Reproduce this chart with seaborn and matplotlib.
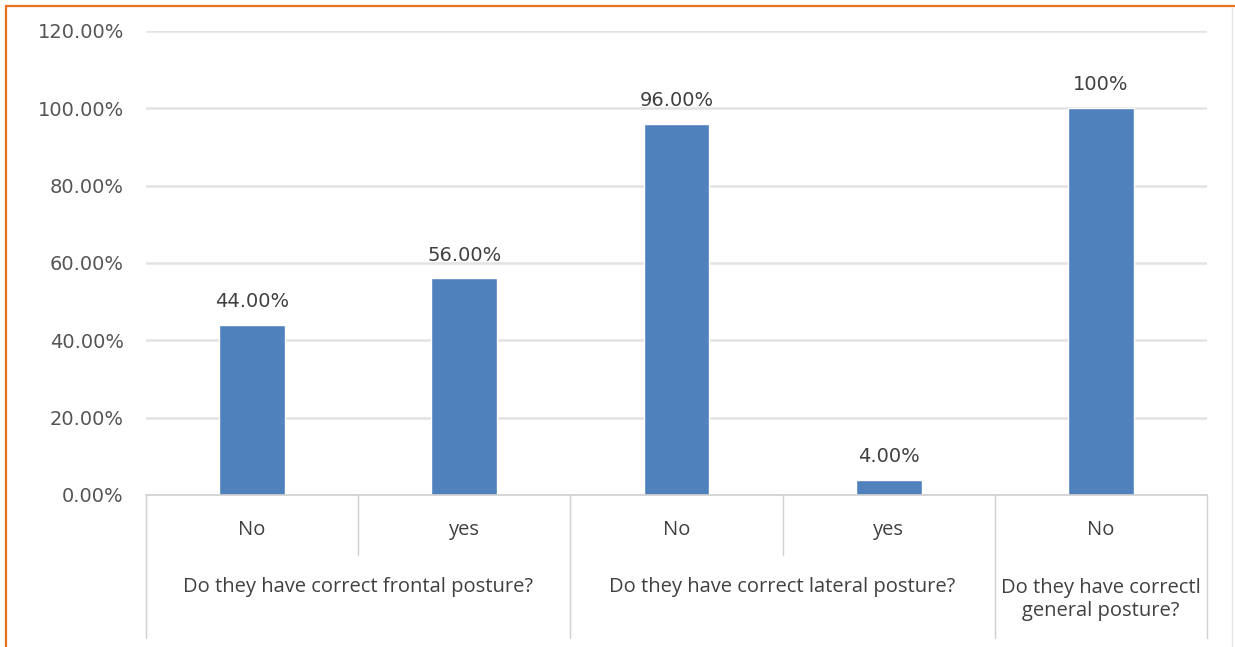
import matplotlib
matplotlib.use("Agg")
import matplotlib.pyplot as plt
import matplotlib.transforms as mtransforms
from matplotlib.lines import Line2D
import seaborn as sns
import pandas as pd

# Survey results: share of answers per posture question
questions = [
    "Do they have correct frontal posture?",
    "Do they have correct lateral posture?",
    "Do they have correctl\ngeneral posture?",
]
answers = ["No", "yes", "No", "yes", "No"]
answer_question = [0, 0, 1, 1, 2]
percentages = [44.0, 56.0, 96.0, 4.0, 100.0]
value_labels = ["44.00%", "56.00%", "96.00%", "4.00%", "100%"]
y_ticks = [0, 20, 40, 60, 80, 100, 120]

df = pd.DataFrame({
    "slot": [f"{answer_question[i]}_{a}" for i, a in enumerate(answers)],
    "answer": answers,
    "pct": percentages,
})

sns.set_theme(style="white")
plt.rcParams["font.family"] = ["DejaVu Sans"]

fig = plt.figure(figsize=(12.35, 6.47), dpi=100)
ax = fig.add_axes([146 / 1235, 1 - 495 / 647, (1207 - 146) / 1235, (495 - 31) / 647])

bar_color = "#4F81BD"
sns.barplot(data=df, x="slot", y="pct", order=list(df["slot"]), color=bar_color,
            width=0.31, saturation=1, ax=ax, zorder=3)

ax.set_ylim(0, 120)
ax.set_xlim(-0.5, len(answers) - 0.5)
ax.set_yticks(y_ticks)
ax.set_yticklabels([f"{t:.2f}%" for t in y_ticks], fontsize=14, color="#555555")
ax.tick_params(axis="y", length=0, pad=16)
ax.set_xticks([])
ax.set_xlabel("")
ax.set_ylabel("")
ax.yaxis.grid(True, color="#E3E3E3", linewidth=1.8, zorder=0)
for s in ["left", "right", "top"]:
    ax.spines[s].set_visible(False)
ax.spines["bottom"].set_color("#D0D0D0")
ax.spines["bottom"].set_linewidth(1.2)
ax.spines["bottom"].set_zorder(4)

# Value labels above bars
for i, (v, lab) in enumerate(zip(percentages, value_labels)):
    ax.annotate(lab, (i, v), xytext=(0, 10), textcoords="offset points",
                ha="center", va="bottom", fontsize=14, color="#404040")

# Two-level category axis below the plot
trans = mtransforms.blended_transform_factory(ax.transData, ax.transAxes)
label_font = dict(family=["Open Sans", "DejaVu Sans"], fontsize=14.5, color="#404040")
for i, a in enumerate(answers):
    ax.text(i, -0.075, a, transform=trans, ha="center", va="center", **label_font)

group_centers = [0.5, 2.5, 4.0]
for q, c in zip(questions, group_centers):
    if "\n" in q:
        ax.text(c, -0.226, q, transform=trans, ha="center", va="center",
                linespacing=1.2, **label_font)
    else:
        ax.text(c, -0.198, q, transform=trans, ha="center", va="center", **label_font)

sep_color = "#D0D0D0"
short_seps = [0.5, 2.5]
long_seps = [-0.5, 1.5, 3.5, 4.5]
for x in short_seps:
    ax.plot([x, x], [0, -0.129], transform=trans, color=sep_color, lw=1.0, clip_on=False)
for x in long_seps:
    ax.plot([x, x], [0, -0.308], transform=trans, color=sep_color, lw=1.0, clip_on=False)

# Frame around the chart
fig.add_artist(Line2D([6 / 1235, 1], [1 - 6 / 647, 1 - 6 / 647], transform=fig.transFigure,
                      color="#E8731E", lw=1.6))
fig.add_artist(Line2D([6 / 1235, 6 / 1235], [0, 1 - 6 / 647], transform=fig.transFigure,
                      color="#E8731E", lw=1.6))
fig.add_artist(Line2D([1232 / 1235, 1232 / 1235], [0, 1 - 8 / 647], transform=fig.transFigure,
                      color="#E6E6E6", lw=1.0))

fig.savefig("out.png", dpi=100, facecolor="white")
